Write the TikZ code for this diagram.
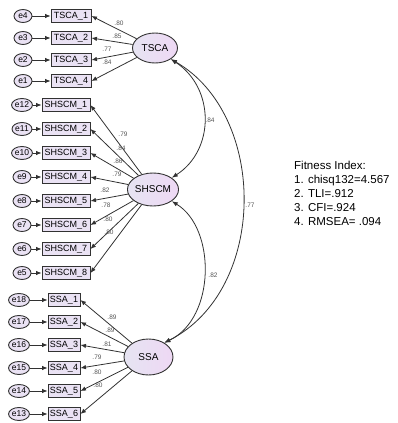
\documentclass[tikz,border=0pt]{standalone}
\usepackage{fontspec}
\setmainfont{Liberation Sans}
\usetikzlibrary{shapes.geometric,arrows.meta}
\definecolor{boxfill}{RGB}{234,226,244}
\definecolor{latleft}{RGB}{230,228,242}
\definecolor{latright}{RGB}{238,216,244}
\definecolor{edgegray}{RGB}{50,50,50}
\definecolor{ldgray}{RGB}{85,85,85}
\begin{document}
\begin{tikzpicture}[x=1pt,y=-1pt,
  obs/.style={draw=edgegray, line width=0.9pt, fill=boxfill, minimum height=13pt, inner sep=0pt, font=\fontsize{9}{10}\selectfont},
  err/.style={ellipse, draw=edgegray, line width=0.9pt, fill=boxfill, minimum width=18pt, minimum height=13pt, inner sep=0.3pt, font=\fontsize{8.5}{9}\selectfont},
  lat/.style={ellipse, draw=edgegray, line width=0.9pt, left color=latleft, right color=latright, inner sep=0pt, font=\fontsize{10}{11}\selectfont},
  ld/.style={font=\fontsize{6.5}{7}\selectfont, text=ldgray, inner sep=0pt},
  arr/.style={draw=edgegray, line width=0.8pt, -{Latex[length=5.5pt,width=4.5pt]}},
  cov/.style={draw=edgegray, line width=0.8pt, {Latex[length=6pt,width=4.5pt]}-{Latex[length=6pt,width=4.5pt]}},
]
\useasboundingbox (0,0) rectangle (398,423);

% latent variables
\node[lat, minimum width=45pt, minimum height=30pt] (TSCA) at (155,48) {TSCA};
\node[lat, minimum width=47pt, minimum height=33pt] (SHSCM) at (153,189.5) {SHSCM};
\node[lat, minimum width=49pt, minimum height=36pt] (SSA) at (148.5,357) {SSA};

% TSCA indicators
\foreach \i/\y/\e/\lx/\ly/\l in {1/16/4/119/23/.80, 2/38/3/117/36/.85, 3/60/2/107/49/.77, 4/81/1/107/62/.84}{
  \node[obs, minimum width=40pt] (T\i) at (71,\y) {TSCA\_\i};
  \node[err] (eT\i) at (23,\y) {e\e};
  \draw[arr] (eT\i) -- (T\i);
  \draw[arr] (TSCA) -- (T\i.east);
  \node[ld] (lT\i) at (\lx,\ly) {\l};
}

% SHSCM indicators
\foreach \i/\y/\e/\lx/\ly/\l in {1/105/12/123/134/.79, 2/129/11/121/148/.84, 3/153/10/118/161/.86, 4/177/9/117/174/.79, 5/201/8/105/190/.82, 6/225/7/106/205/.78, 7/249/6/108/219/.80, 8/273/5/109/232/.80}{
  \node[obs, minimum width=48pt] (H\i) at (66,\y) {SHSCM\_\i};
  \node[err] (eH\i) at (22,\y) {e\e};
  \draw[arr] (eH\i) -- (H\i);
  \draw[arr] (SHSCM) -- (H\i.east);
  \node[ld] (lH\i) at (\lx,\ly) {\l};
}

% SSA indicators
\foreach \i/\y/\e/\lx/\ly/\l in {1/300/18/112/317/.89, 2/322/17/110/330/.89, 3/345/16/107/344/.81, 4/368/15/97/357/.79, 5/391/14/97/372/.80, 6/414/13/98/385/.80}{
  \node[obs, minimum width=32pt] (S\i) at (64,\y) {SSA\_\i};
  \node[err] (eS\i) at (19,\y) {e\e};
  \draw[arr] (eS\i) -- (S\i);
  \draw[arr] (SSA) -- (S\i.east);
  \node[ld] (lS\i) at (\lx,\ly) {\l};
}

% covariances
\draw[cov] (TSCA.-35) .. controls (215,88) and (215,150) .. (SHSCM.32);
\draw[cov] (SHSCM.-32) .. controls (216,228) and (216,318) .. (SSA.42);
\draw[cov] (TSCA.-35) .. controls (268,115) and (268,290) .. (SSA.42);
\node[ld] (c1) at (210,120) {.84};
\node[ld] (c2) at (213,275) {.82};
\node[ld] (c3) at (250,205) {.77};

% fit indices
\node[anchor=north west, align=left, inner sep=0pt, font=\fontsize{11.5}{14}\selectfont] (fit) at (294,160.5)
  {Fitness Index:\\1. chisq132=4.567\\2. TLI=.912\\3. CFI=.924\\4. RMSEA= .094};
\end{tikzpicture}
\end{document}
